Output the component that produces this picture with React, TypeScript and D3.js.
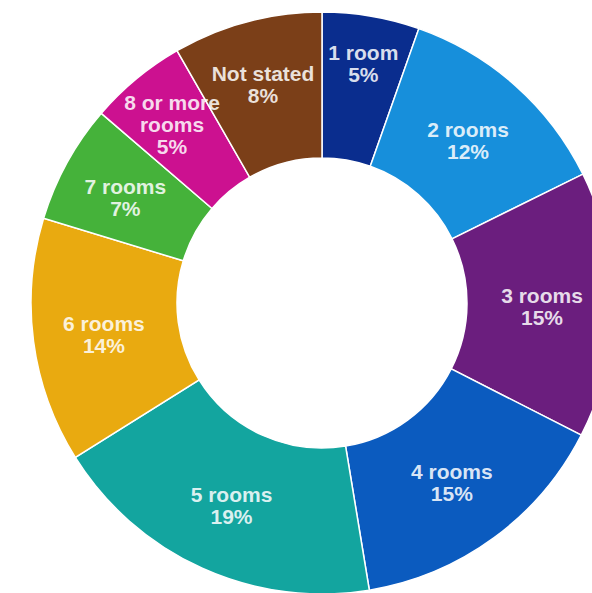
import React from "react";
import * as d3 from "d3";

const categories = ["1 room", "2 rooms", "3 rooms", "4 rooms", "5 rooms", "6 rooms", "7 rooms", "8 or more rooms", "Not stated"];
const values = [5.4, 12.3, 14.8, 14.9, 18.7, 13.6, 6.6, 5.4, 8.3];
const colors = ["#0a2d8e", "#178fdb", "#6b1e7e", "#0b5bbf", "#13a59f", "#e9aa10", "#45b23a", "#cc1190", "#7b3f18"];

const W = 592;
const H = 593;
const CX = 322;
const CY = 303;
const R_OUT = 291;
const R_IN = 145;

function wrap(label: string, maxChars = 10): string[] {
  if (label.length <= maxChars) return [label];
  const words = label.split(" ");
  const lines: string[] = [];
  let cur = "";
  for (const w of words) {
    const next = cur ? cur + " " + w : w;
    if (next.length > maxChars && cur) {
      lines.push(cur);
      cur = w;
    } else {
      cur = next;
    }
  }
  if (cur) lines.push(cur);
  return lines;
}

export default function App() {
  const data = categories.map((c, i) => ({ c, v: values[i], color: colors[i] }));
  const pie = d3.pie<any>().value((d) => d.v).sort(null).startAngle(0).endAngle(2 * Math.PI);
  const arcs = pie(data);
  const arc = d3.arc<any>().innerRadius(R_IN).outerRadius(R_OUT);
  const total = d3.sum(values);
  const lineH = 22;
  const midR = (R_IN + R_OUT) / 2 + 2;

  return (
    <svg width={W} height={H} style={{ position: "absolute", left: 0, top: 0, background: "#fff" }}>
      <g transform={`translate(${CX},${CY})`}>
        {arcs.map((a, i) => (
          <path key={i} d={arc(a) as string} fill={a.data.color} stroke="#fff" strokeWidth={1.5} />
        ))}
        {arcs.map((a, i) => {
          const mid = (a.startAngle + a.endAngle) / 2;
          const frac = a.data.v / total;
          // push labels of narrow slices outward where the text runs across the slice
          const r = frac < 0.1 ? midR + 560 * (0.1 - frac) * Math.cos(mid) ** 2 : midR;
          const x = r * Math.sin(mid);
          const y = -r * Math.cos(mid);
          const lines = [...wrap(a.data.c), `${Math.round(frac * 100)}%`];
          const y0 = y - ((lines.length - 1) * lineH) / 2;
          return (
            <text
              key={"t" + i}
              x={x}
              textAnchor="middle"
              fontFamily="'Liberation Sans', Arial, sans-serif"
              fontWeight="bold"
              fontSize={21}
              fill="#fff"
              fillOpacity={0.85}
            >
              {lines.map((l, j) => (
                <tspan key={j} x={x} y={y0 + j * lineH} dy="0.47em">
                  {l}
                </tspan>
              ))}
            </text>
          );
        })}
      </g>
    </svg>
  );
}
